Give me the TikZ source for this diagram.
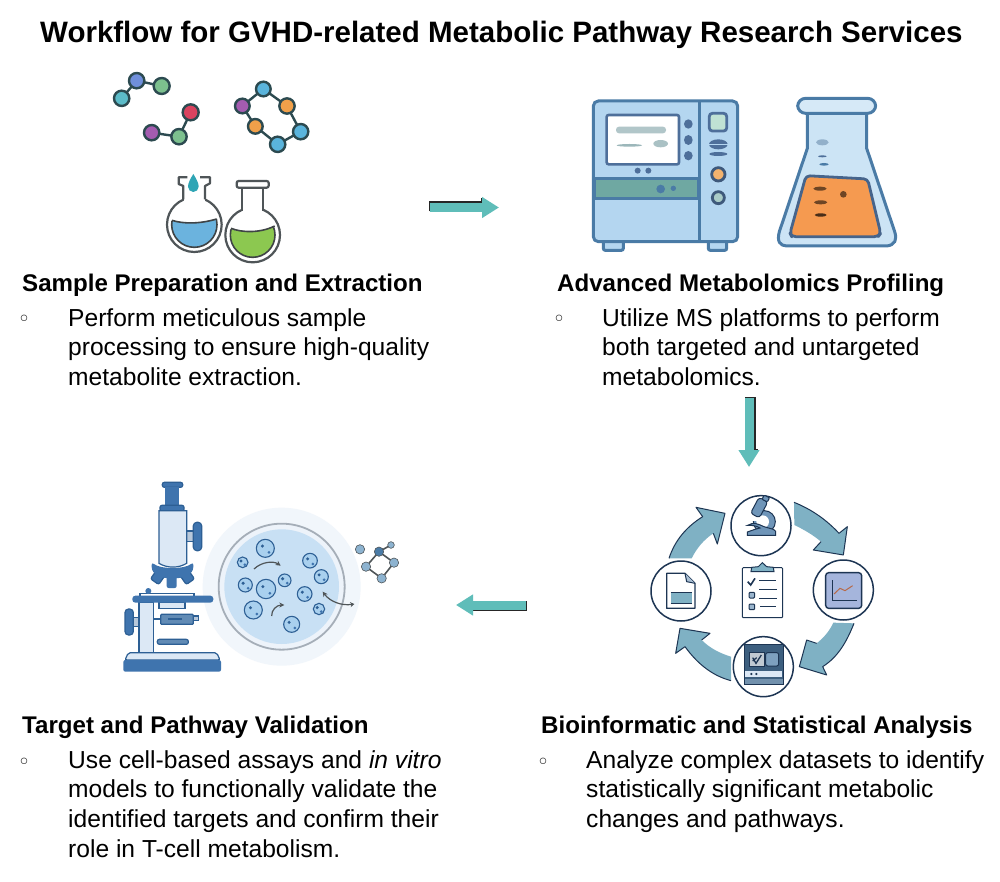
\documentclass[tikz,border=0pt]{standalone}
\usepackage{fontspec}
\setmainfont{Liberation Sans}
\newfontfamily\bulletfont{DejaVu Sans}
\usetikzlibrary{arrows.meta}
\definecolor{inkgray}{HTML}{4F5558}
\definecolor{inkdark}{HTML}{2C4A50}
\definecolor{mteal}{HTML}{5CBCC9}
\definecolor{mblue}{HTML}{6F8FDB}
\definecolor{mgreen}{HTML}{7CC08E}
\definecolor{mred}{HTML}{D9435F}
\definecolor{mpurple}{HTML}{A45CB0}
\definecolor{msky}{HTML}{5AB4DC}
\definecolor{morange}{HTML}{F0A04A}
\definecolor{liqblue}{HTML}{6BB3DE}
\definecolor{liqgreen}{HTML}{8CC850}
\definecolor{dropteal}{HTML}{2FA5B5}
\definecolor{machfill}{HTML}{B4D6F0}
\definecolor{machblue}{HTML}{4A7BA6}
\definecolor{machdark}{HTML}{4E6F9A}
\definecolor{bandgreen}{HTML}{6FA8A2}
\definecolor{flaskfill}{HTML}{CCE4F5}
\definecolor{flaskorange}{HTML}{F59A50}
\definecolor{ringfill}{HTML}{7FB1C4}
\definecolor{ringdark}{HTML}{1D3553}
\definecolor{iconblue}{HTML}{6F95B8}
\definecolor{chartfill}{HTML}{A5B5DC}
\definecolor{devframe}{HTML}{3D5F7F}
\definecolor{scopeblue}{HTML}{3F74AE}
\definecolor{scopelight}{HTML}{DCE8F5}
\definecolor{scopegray}{HTML}{B8C8DA}
\definecolor{scopedark}{HTML}{2D5F94}
\definecolor{dishglow}{HTML}{F1F6FB}
\definecolor{dishfill}{HTML}{C8E0F4}
\definecolor{cellfill}{HTML}{A9D0EE}
\definecolor{atomgray}{HTML}{8DB3D0}
\definecolor{arrowteal}{HTML}{5FBDB9}
\tikzset{
  titletext/.style={font=\fontsize{29.5}{34}\selectfont\bfseries,inner sep=0pt,anchor=base west},
  headtext/.style={font=\fontsize{24.1}{28}\selectfont\bfseries,inner sep=0pt,anchor=base west},
  bodytext/.style={font=\fontsize{24.6}{29.8}\selectfont,inner sep=0pt,anchor=north west,align=left},
  bulletmark/.style={font=\fontsize{22}{24}\selectfont\bulletfont,inner sep=0pt,text=black!85},
  blockarrow/.style={line width=9pt,draw=arrowteal,-{Triangle[length=17pt,width=20pt]}},
  arrowedge/.style={line width=2pt,draw=black!85},
  atom/.style={draw=inkdark,line width=2.4pt},
  bond/.style={draw=inkdark,line width=2.4pt},
  flaskline/.style={draw=inkgray,line width=2.2pt},
  machstroke/.style={draw=machblue,line width=3pt},
  ringarrow/.style={fill=ringfill},
  ringedge/.style={draw=ringdark,line width=1pt},
  badge/.style={draw=ringdark,line width=1.5pt,fill=white},
  thinline/.style={draw=ringdark,line width=1pt},
  scopeline/.style={draw=scopedark,line width=1.2pt},
  cell/.style={draw=scopedark,line width=1.1pt,fill=cellfill},
  icon/.style={x=0.33333pt,y=-0.33333pt},
}
\begin{document}
\begin{tikzpicture}[x=1pt,y=-1pt]
\useasboundingbox (0,0) rectangle (1000,882);
\fill[white] (0,0) rectangle (1000,882);

% ---------- icon 1: molecules and flasks
\begin{scope}[shift={(100pt,-60pt)},icon]
\draw[bond] (65,115)--(110,62)--(185,78);
\fill[mteal,atom] (65,115) circle[radius=23];
\fill[mblue,atom] (110,62) circle[radius=23];
\fill[mgreen,atom] (185,78) circle[radius=24];
\draw[bond] (155,218)--(237,230)--(272,157);
\fill[mpurple,atom] (155,218) circle[radius=23];
\fill[mgreen,atom] (237,230) circle[radius=23];
\fill[mred,atom] (272,157) circle[radius=24];
\draw[bond] (427,138)--(490,87)--(561,138)--(602,215)--(533,253)--(466,199)--cycle;
\fill[mpurple,atom] (427,138) circle[radius=22];
\fill[msky,atom] (490,87) circle[radius=22];
\fill[morange,atom] (561,138) circle[radius=23];
\fill[msky,atom] (602,215) circle[radius=23];
\fill[msky,atom] (533,253) circle[radius=23];
\fill[morange,atom] (466,199) circle[radius=22];
% left flask
\draw[flaskline,fill=white] (283,494) circle[radius=82];
\fill[white] (252,370) rectangle (314,425);
\draw[flaskline,line join=round] (250,418)--(250,378)--(236,372)--(236,352)--(262,352) (300,352)--(330,352)--(330,370)--(315,378)--(315,418);
\begin{scope}
\clip (205,480) .. controls (250,492) and (300,492) .. (360,474) -- (360,580) -- (205,580) -- cycle;
\draw[draw=inkgray!80!black,line width=1.6pt,fill=liqblue] (283,494) circle[radius=68];
\end{scope}
\draw[draw=inkgray!80!black,line width=1.6pt] (216,481) .. controls (250,492) and (300,492) .. (350,477);
\fill[dropteal] (280,342) .. controls (270,358) and (264,370) .. (264,380) arc[start angle=180,end angle=0,radius=16] .. controls (296,370) and (290,358) .. (280,342) -- cycle;
% right flask
\draw[flaskline,fill=white] (458,525) circle[radius=82];
\fill[white] (427,382) rectangle (489,465);
\draw[flaskline] (425,382)--(425,452) (490,382)--(490,452);
\draw[flaskline,fill=white,rounded corners=2pt] (410,363) rectangle (506,383);
\begin{scope}
\clip (385,505) .. controls (420,518) and (480,520) .. (530,498) -- (530,600) -- (385,600) -- cycle;
\draw[draw=inkgray!80!black,line width=1.6pt,fill=liqgreen] (458,525) circle[radius=67];
\end{scope}
\draw[draw=inkgray!80!black,line width=1.6pt] (393,505) .. controls (425,518) and (480,520) .. (524,498);
\end{scope}

% ---------- icon 2: instrument and conical flask
\begin{scope}[shift={(570pt,-85pt)},icon]
\draw[machstroke,fill=machfill,rounded corners=2pt] (100,465) rectangle (160,496);
\draw[machstroke,fill=machfill,rounded corners=2pt] (415,465) rectangle (470,496);
\draw[machstroke,fill=machfill,rounded corners=5pt] (70,48) rectangle (503,470);
\draw[machstroke] (387,50)--(387,468);
\draw[machstroke,fill=bandgreen] (72,282) rectangle (385,340);
\draw[draw=machdark,line width=2.6pt,fill=white,rounded corners=2pt] (110,90) rectangle (327,238);
\fill[mteal!40!gray!55!white,rounded corners=3pt] (138,125) rectangle (288,145);
\fill[mteal!40!gray!70] (178,181) ellipse[x radius=38,y radius=4];
\fill[mteal!40!gray!60!white] (272,176) ellipse[x radius=22,y radius=11];
\fill[machdark] (355,117) ellipse[x radius=13,y radius=14];
\fill[machdark] (355,165) ellipse[x radius=13,y radius=15];
\fill[machdark] (355,212) ellipse[x radius=13,y radius=14];
\fill[machdark] (203,257) circle[radius=9];
\fill[machdark] (235,257) circle[radius=9];
\fill[machblue] (272,312) circle[radius=13];
\fill[machblue] (310,310) circle[radius=8];
\draw[draw=machdark,line width=2.8pt,fill=mteal!30!mgreen!45!white,rounded corners=3pt] (418,85) rectangle (470,138);
\fill[machdark] (445,178) ellipse[x radius=28,y radius=15];
\fill[machfill] (417,176) rectangle (473,180);
\fill[machdark] (445,207) ellipse[x radius=27,y radius=6];
\draw[draw=machdark!80!black,line width=2.8pt,fill=morange!80] (445,268) circle[radius=20];
\draw[draw=machdark!80!black,line width=2.8pt,fill=bandgreen!60] (445,338) circle[radius=18];
% conical flask
\draw[machstroke,fill=flaskfill,line join=round] (712,85)--(712,190)--(628,440) .. controls (620,470) and (630,482) .. (650,483)--(950,483) .. controls (975,480) and (982,465) .. (974,440)--(890,190)--(890,85);
\draw[machstroke,fill=flaskfill!80!white,rounded corners=8pt] (683,40) rectangle (917,85);
\draw[draw=machdark!90!black,line width=2.8pt,fill=flaskorange,line join=round,rounded corners=4pt] (708,272)--(893,282)--(932,445)--(925,455)--(665,455)--(660,445)--cycle;
\fill[machblue!60!white] (757,172) ellipse[x radius=19,y radius=9];
\fill[machdark] (757,214) ellipse[x radius=13,y radius=3];
\fill[machblue] (762,238) ellipse[x radius=14,y radius=4];
\fill[black!55!flaskorange] (750,311) ellipse[x radius=20,y radius=6];
\fill[black!55!flaskorange] (820,328) circle[radius=10];
\fill[black!55!flaskorange] (752,352) ellipse[x radius=20,y radius=6];
\fill[black!70!flaskorange] (752,390) ellipse[x radius=18,y radius=5];
\end{scope}

% ---------- icon 3: analysis cycle
\begin{scope}[shift={(630pt,-470pt)},icon]
\fill[ringarrow] (492,97) .. controls (545,118) and (590,150) .. (627,190) -- (652,170) -- (640,255) -- (550,240) -- (573,215) .. controls (550,195) and (520,178) .. (493,165) -- cycle;
\draw[ringedge,line join=round] (492,97) .. controls (545,118) and (590,150) .. (627,190) -- (652,170) -- (640,255) -- (550,240) -- (573,215);
\fill[ringarrow] (672,460) .. controls (650,515) and (625,560) .. (578,590) -- (590,615) -- (508,590) -- (530,510) -- (560,520) .. controls (585,500) and (600,480) .. (610,458) -- cycle;
\draw[ringedge,line join=round] (672,460) .. controls (650,515) and (625,560) .. (578,590) -- (590,615) -- (508,590) -- (530,510) -- (560,520);
\fill[ringarrow] (303,632) .. controls (250,618) and (205,585) .. (165,530) -- (137,550) -- (150,475) -- (240,490) -- (215,510) .. controls (240,535) and (270,550) .. (303,560) -- cycle;
\draw[ringedge,line join=round] (303,632) .. controls (250,618) and (205,585) .. (165,530) -- (137,550) -- (150,475) -- (240,490) -- (215,510);
\fill[ringarrow] (117,265) .. controls (135,210) and (170,170) .. (218,140) -- (198,112) -- (285,130) -- (262,222) -- (250,190) .. controls (220,210) and (200,235) .. (185,265) -- cycle;
\draw[ringedge,line join=round] (117,265) .. controls (135,210) and (170,170) .. (218,140) -- (198,112) -- (285,130) -- (262,222) -- (250,190);
% badges
\draw[badge] (393,167) circle[radius=90];
\draw[badge] (640,360) circle[radius=90];
\draw[badge] (400,590) circle[radius=90];
\draw[badge] (153,363) circle[radius=90];
% microscope badge
\draw[thinline,fill=iconblue] (403,155) circle[radius=33];
\fill[white] (398,155) circle[radius=19];
\fill[white] (352,128) rectangle (392,152);
\draw[thinline,fill=iconblue] (353,166) .. controls (370,155) and (385,162) .. (402,170) -- (430,178) -- (437,184) -- (437,196) -- (352,196) -- (352,186) -- (375,178) -- (390,174) .. controls (378,166) and (365,166) .. (353,166) -- cycle;
\draw[thinline,fill=iconblue,rotate around={-28:(388,112)},rounded corners=3pt] (373,86) rectangle (403,140);
\draw[thinline,fill=iconblue,rotate around={-28:(405,90)},rounded corners=1pt] (396,78) rectangle (414,92);
% chart badge
\draw[draw=ringdark,line width=1.4pt,fill=chartfill,rounded corners=3pt] (587,308) rectangle (695,415);
\draw[thinline,line width=1.2pt] (607,330)--(607,392)--(680,392);
\draw[draw=brown!75!red!70!gray,line width=1pt] (612,372)--(630,355)--(645,362)--(668,347);
% device badge
\draw[draw=ringdark,line width=1pt,fill=devframe] (344,524) rectangle (459,642);
\draw[thinline,fill=scopelight!70!gray] (359,548) rectangle (402,588);
\draw[thinline,fill=iconblue!90!white,rounded corners=2pt] (407,548) rectangle (446,588);
\fill[scopelight] (346,602) rectangle (456,622);
\fill[iconblue!80!gray] (345,628) rectangle (458,641);
\fill[ringdark] (364,612) circle[radius=3.5];
\fill[ringdark] (379,612) circle[radius=3.5];
\draw[thinline,line width=1.3pt] (368,563)--(378,580)--(394,555) (368,573)--(380,563);
% document badge
\draw[thinline,line width=1.2pt,fill=white,line join=round] (110,310)--(165,310)--(195,340)--(195,415)--(110,415)--cycle;
\draw[thinline,fill=iconblue!60!white] (165,310)--(170,335)--(195,340);
\fill[ringfill] (122,365) rectangle (185,402);
\draw[thinline] (122,366)--(185,366) (122,401)--(185,401);
% clipboard
\draw[thinline,fill=white,rounded corners=1pt] (337,293) rectangle (458,443);
\draw[thinline,fill=ringfill] (363,305)--(365,292)--(385,290)--(397,278)--(410,290)--(430,292)--(432,305)--cycle;
\draw[thinline,line width=1.6pt] (353,335)--(362,345)--(375,325);
\draw[thinline,fill=iconblue!70!white,rounded corners=1pt] (357,367) rectangle (374,384);
\draw[thinline,fill=iconblue!70!white,rounded corners=1pt] (357,402) rectangle (374,419);
\draw[thinline] (388,332)--(438,332) (388,358)--(440,358) (388,385)--(440,385) (390,410)--(437,410);
\end{scope}

% ---------- icon 4: microscope and dish
\begin{scope}[shift={(110pt,-470pt)},icon]
\fill[dishglow] (515,350) circle[radius=237];
\draw[draw=black!25!scopelight,line width=1.8pt,fill=scopelight!50!white] (515,350) circle[radius=189];
\fill[dishfill] (515,350) circle[radius=172];
\foreach \cx/\cy/\cr in {466/235/27,398/277/16,406/345/21,468/357/29,524/331/19,430/420/27,545/463/24,600/272/22,634/320/21,584/372/22,627/417/17}{
  \draw[cell] (\cx,\cy) circle[radius=\cr];
  \fill[scopedark] (\cx-0.32*\cr,\cy-0.25*\cr) circle[radius=5];
  \fill[scopeblue] (\cx+0.4*\cr,\cy+0.45*\cr) circle[radius=4.5];
}
\draw[draw=inkgray,line width=1.2pt,-{Stealth[length=5pt,width=5pt]}] (432,297) .. controls (455,275) and (490,272) .. (512,287);
\draw[draw=inkgray,line width=1.2pt,-{Stealth[length=5pt,width=5pt]}] (485,438) .. controls (484,420) and (500,405) .. (523,405);
\draw[draw=inkgray,line width=1.2pt,{Stealth[length=5pt,width=5pt]}-{Stealth[length=4pt,width=5pt]}] (638,365) .. controls (660,395) and (695,408) .. (733,402);
\draw[draw=inkgray,line width=1.6pt] (807,245)--(852,278)--(815,325)--(768,290)--cycle (807,245)--(843,225);
\foreach \cx/\cy/\cr/\cc in {807/245/14/machblue,852/278/14/atomgray,815/325/14/atomgray,768/290/14/atomgray,843/225/10/atomgray,750/238/14/atomgray}{
  \draw[inkgray,line width=0.6pt,fill=\cc] (\cx,\cy) circle[radius=\cr];
}
% microscope upper part
\draw[scopeline,fill=scopeblue,rounded corners=2pt] (157,37) rectangle (218,52);
\fill[scopeblue] (165,52) rectangle (208,108);
\draw[scopeline,fill=scopeblue,rounded corners=2pt] (150,106) rectangle (222,124);
\draw[scopeline,fill=scopegray] (230,183) rectangle (252,215);
\draw[scopeline,fill=scopeblue,rotate around={-35:(143,322)},rounded corners=2pt] (128,300) rectangle (158,338);
\fill[scopeblue,rounded corners=2pt] (170,315) rectangle (200,354);
\draw[scopeline,fill=scopeblue,rotate around={35:(232,322)},rounded corners=2pt] (217,300) rectangle (247,338);
\draw[scopeline,fill=scopelight] (147,122) -- (230,122) -- (230,280) .. controls (205,295) and (172,295) .. (147,280) -- cycle;
\draw[scopeline,fill=scopeblue,rounded corners=3.5pt] (250,157) rectangle (275,242);
\fill[scopeblue,line join=round,rounded corners=3pt] (125,276) .. controls (150,298) and (225,298) .. (250,276) -- (250,300) -- (240,312) .. controls (215,328) and (160,328) .. (135,312) -- (125,300) -- cycle;
% microscope stand
\draw[scopeline,fill=scopelight] (87,398) rectangle (130,550);
\draw[scopeline,fill=scopegray] (70,442) rectangle (87,470);
\draw[scopeline,fill=scopeblue,rounded corners=3.5pt] (45,417) rectangle (70,495);
\draw[scopeline,fill=scopelight] (147,398) rectangle (225,415);
\draw[scopeline,fill=white] (90,370) rectangle (252,379);
\fill[scopeblue] (115,363) circle[radius=9];
\fill[scopeblue,rounded corners=3pt] (67,377) rectangle (310,398);
\draw[scopeline] (130,447)--(152,447);
\draw[scopeline,fill=scopegray] (250,438) rectangle (265,452);
\draw[scopeline,fill=iconblue!70!scopeblue,rounded corners=1pt] (152,433) rectangle (250,463);
\fill[scopedark] (173,443) rectangle (215,450);
\draw[scopeline,fill=iconblue!70!scopeblue,rounded corners=2pt] (142,508) rectangle (235,523);
\draw[scopeline,fill=scopelight,rounded corners=2pt] (45,570) -- (55,548) -- (320,548) -- (330,570) -- cycle;
\fill[scopeblue,rounded corners=2pt] (40,570) rectangle (333,605);
\end{scope}

% ---------- connectors
\coordinate (a1s) at (430,207.5);
\coordinate (a1e) at (499,207.5);
\coordinate (a2s) at (749,398);
\coordinate (a2e) at (749,467);
\coordinate (a3s) at (526,605);
\coordinate (a3e) at (456,605);
\draw[arrowedge] ([shift={(0,4)}]a1s) -- ([shift={(0,-5)}]a1s) -- ([shift={(52,-5)}]a1s) -- ([shift={(52,-9)}]a1s);
\draw[blockarrow] (a1s) -- (a1e);
\draw[arrowedge] ([shift={(-4,0)}]a2s) -- ([shift={(6,0)}]a2s) -- ([shift={(6,52)}]a2s) -- ([shift={(9,52)}]a2s);
\draw[blockarrow] (a2s) -- (a2e);
\draw[arrowedge] ([shift={(0,-4)}]a3s) -- ([shift={(0,5)}]a3s) -- ([shift={(-54,5)}]a3s) -- ([shift={(-54,9)}]a3s);
\draw[blockarrow] (a3s) -- (a3e);

% ---------- texts
\node[titletext] (title) at (40,43) {Workflow for GVHD-related Metabolic Pathway Research Services};
\node[headtext] (h1) at (22,291) {Sample Preparation and Extraction};
\node[headtext] (h2) at (557,291) {Advanced Metabolomics Profiling};
\node[headtext] (h3) at (22,733) {Target and Pathway Validation};
\node[headtext] (h4) at (541,733) {Bioinformatic and Statistical Analysis};
\node[bulletmark] (b1) at (24,321) {◦};
\node[bulletmark] (b2) at (559,321) {◦};
\node[bulletmark] (b3) at (24,764) {◦};
\node[bulletmark] (b4) at (543,764) {◦};
\node[bodytext] (t1) at (68,308) {Perform meticulous sample\\processing to ensure high-quality\\metabolite extraction.};
\node[bodytext] (t2) at (602,308) {Utilize MS platforms to perform\\both targeted and untargeted\\metabolomics.};
\node[bodytext] (t3) at (68,750) {Use cell-based assays and \textit{in vitro}\\models to functionally validate the\\identified targets and confirm their\\role in T-cell metabolism.};
\node[bodytext] (t4) at (586,750) {Analyze complex datasets to identify\\statistically significant metabolic\\changes and pathways.};
\end{tikzpicture}
\end{document}
